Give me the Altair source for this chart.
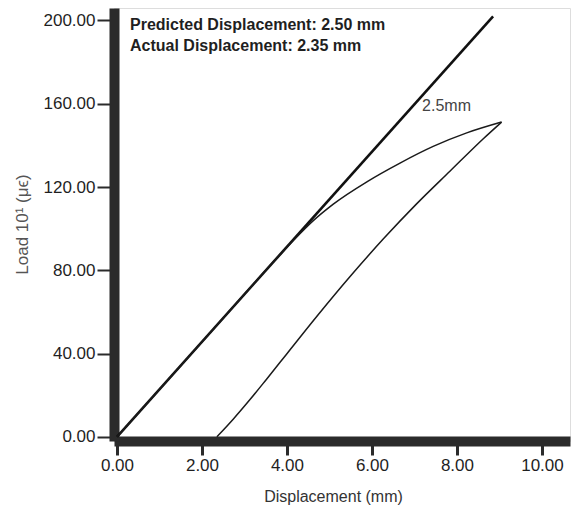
import altair as alt
import pandas as pd

# ---- data ----
x_ticks = [0, 2, 4, 6, 8, 10]
y_ticks = [0, 40, 80, 120, 160, 200]

predicted_x = [0.0, 8.85]
predicted_y = [0.0, 202.0]

loading_x = [0.0, 2.0, 3.8, 4.2, 4.6, 5.09, 5.88, 6.66, 7.44, 8.23, 9.05]
loading_y = [0.0, 45.6, 86.7, 95.4, 103.5, 111.8, 122.5, 131.5, 139.5, 146.0, 151.2]

unloading_x = [9.05, 8.62, 7.84, 7.05, 6.27, 5.48, 4.70, 3.99, 3.52, 3.13, 2.74, 2.35]
unloading_y = [151.2, 143.2, 127.7, 111.9, 95.1, 76.9, 57.8, 39.7, 27.7, 17.9, 8.6, 0.0]

header_lines = ["Predicted Displacement: 2.50 mm", "Actual Displacement: 2.35 mm"]
line_label = ["2.5mm"]
line_label_x = [7.18]
line_label_y = [158.8]

FONT = "Liberation Sans"
INK = "#1f1f1f"
BAR = "#2b2b2b"

pred_df = pd.DataFrame({"x": predicted_x, "y": predicted_y, "o": range(len(predicted_x))})
load_df = pd.DataFrame({"x": loading_x, "y": loading_y, "o": range(len(loading_x))})
unload_df = pd.DataFrame({"x": unloading_x, "y": unloading_y, "o": range(len(unloading_x))})
lab_df = pd.DataFrame({"x": line_label_x, "y": line_label_y, "t": line_label})

xscale = alt.Scale(domain=[-0.07, 10.66], nice=False, zero=False)
yscale = alt.Scale(domain=[-2, 206], nice=False, zero=False)

xaxis = alt.Axis(values=x_ticks, format=".2f", title="Displacement (mm)", grid=False,
                 domainWidth=10, domainColor=BAR, tickSize=14, tickWidth=3, tickColor=BAR,
                 labelFont=FONT, labelFontSize=17, labelColor=INK, labelPadding=2,
                 labelFlush=False,
                 titleFont=FONT, titleFontSize=16, titleFontWeight="normal", titleColor="#333333",
                 titleX=219, titleY=55, titleBaseline="middle", titleAlign="center")
yaxis = alt.Axis(values=y_ticks, format=".2f", title="Load 10¹ (μϵ)", grid=False,
                 domainWidth=10, domainColor=BAR, tickSize=17, tickWidth=2, tickColor=BAR,
                 labelFont=FONT, labelFontSize=17, labelColor=INK, labelPadding=2,
                 labelFlush=False,
                 titleFont=FONT, titleFontSize=17, titleFontWeight="normal", titleColor="#555555",
                 titleX=-92, titleY=216, titleBaseline="middle", titleAlign="center", titleAngle=-90)

pred = alt.Chart(pred_df).mark_line(color="#111111", strokeWidth=2.6).encode(
    x=alt.X("x:Q", scale=xscale, axis=xaxis),
    y=alt.Y("y:Q", scale=yscale, axis=yaxis),
    order="o:Q",
)
load = alt.Chart(load_df).mark_line(color="#1a1a1a", strokeWidth=1.5, interpolate="monotone").encode(
    x=alt.X("x:Q", scale=xscale), y=alt.Y("y:Q", scale=yscale), order="o:Q"
)
unload = alt.Chart(unload_df).mark_line(color="#1a1a1a", strokeWidth=1.5, interpolate="monotone").encode(
    x=alt.X("x:Q", scale=xscale), y=alt.Y("y:Q", scale=yscale), order="o:Q"
)
lab = alt.Chart(lab_df).mark_text(align="left", baseline="middle", font=FONT, fontSize=16,
                                  color="#444444").encode(
    x=alt.X("x:Q", scale=xscale), y=alt.Y("y:Q", scale=yscale), text="t:N"
)

layers = [pred, load, unload, lab]
for i, line in enumerate(header_lines):
    layers.append(
        alt.Chart(pd.DataFrame({"t": [line]})).mark_text(
            align="left", baseline="middle", font=FONT, fontSize=16, fontWeight="bold", color=INK
        ).encode(x=alt.value(16), y=alt.value(17 + 21 * i), text="t:N")
    )

chart = alt.layer(*layers).properties(
    width=456, height=433,
    autosize=alt.AutoSizeParams(type="none"),
    padding={"left": 114, "top": 8, "right": 3, "bottom": 67},
).configure_view(stroke=None).configure(background="white")

chart.save("out.html", embed_options={"renderer": "svg", "actions": False})
